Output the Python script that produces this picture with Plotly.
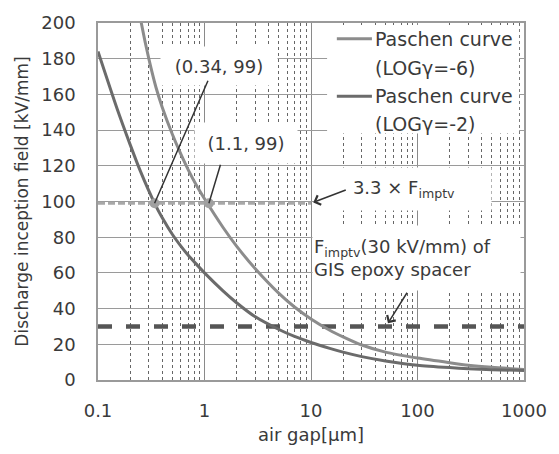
import math
import plotly.graph_objects as go

# ---- data ----
gap_g6 = [0.24, 0.255, 0.3, 0.35, 0.4, 0.5, 0.6, 0.7, 0.85, 1.0, 1.5, 2, 3, 5, 7, 10, 15, 20, 30, 50, 100, 200, 300, 500, 1000]
field_g6 = [209, 200, 180, 164, 153, 137.5, 126.5, 118, 108.5, 101.5, 85.3, 75, 62.3, 48.5, 40.9, 34.2, 27.9, 24.2, 19.6, 15.6, 12.3, 9.7, 8.3, 7.1, 5.9]
gap_g2 = [0.1, 0.15, 0.2, 0.25, 0.34, 0.4, 0.5, 0.6, 0.7, 0.85, 1.0, 1.5, 2, 3, 5, 7, 10, 15, 20, 30, 50, 100, 200, 300, 500, 1000]
field_g2 = [184, 152.5, 132, 117, 99, 91, 81.5, 75, 70, 64.5, 60, 49.8, 43.3, 35.4, 28.3, 24.4, 21, 17.7, 15.6, 13.1, 10.7, 8.3, 6.95, 6.35, 5.8, 5.3]
f_imptv = 30
f_imptv_x33 = 99
f33_gap = [0.1, 10]
full_gap = [0.1, 1000]
pt_gap = [0.34, 1.1]
pt_field = [99, 99]
x_tickvals = [0.1, 1, 10, 100, 1000]
x_ticktext = ["0.1", "1", "10", "100", "1000"]

FONT = "DejaVu Sans"
TXT = "#3a3a3a"
C6 = "#8c8c8c"
C2 = "#6b6b6b"

L, R, T, B = 98, 535, 20, 385
def pxx(x):
    return (x - L) / (R - L)
def pxy(y):
    return (B - y) / (B - T)

fig = go.Figure()
fig.add_trace(go.Scatter(x=full_gap, y=[f_imptv] * len(full_gap), mode="lines",
                         line=dict(color="#555555", width=4.5, dash="14px,14px"),
                         showlegend=False, hoverinfo="skip"))
fig.add_trace(go.Scatter(x=gap_g6, y=field_g6, mode="lines", name="Paschen curve (LOGγ=-6)",
                         line=dict(color=C6, width=3, shape="spline", smoothing=0.6), showlegend=False))
fig.add_trace(go.Scatter(x=gap_g2, y=field_g2, mode="lines", name="Paschen curve (LOGγ=-2)",
                         line=dict(color=C2, width=3, shape="spline", smoothing=0.6), showlegend=False))
fig.add_trace(go.Scatter(x=f33_gap, y=[f_imptv_x33] * len(f33_gap), mode="lines",
                         line=dict(color="#a8a8a8", width=3, dash="7px,3px"),
                         showlegend=False, hoverinfo="skip"))
fig.add_trace(go.Scatter(x=pt_gap, y=pt_field, mode="markers",
                         marker=dict(color="#a0a0a0", size=10), showlegend=False))

ann = []
def txt(text, cx, cy, w=None, h=None, xanchor="center", align="center", size=18):
    d = dict(text=text, x=pxx(cx), y=pxy(cy), xref="paper", yref="paper", showarrow=False,
             xanchor=xanchor, yanchor="middle", align=align,
             font=dict(family=FONT, size=size, color=TXT))
    if w is not None:
        d.update(width=w, height=h, bgcolor="white")
    ann.append(d)

txt("(0.34, 99)", 222, 64, 114, 36)
txt("(1.1, 99)", 250, 143, 100, 38)
txt("3.3 × F<sub>imptv</sub>", 412, 190, 172, 40)
txt("F<sub>imptv</sub>(30 kV/mm) of<br>GIS epoxy spacer", 318, 260, 205, 62, xanchor="left", align="left")

def arrow(xv, yv, ax, ay, head):
    ann.append(dict(text="", x=math.log10(xv), y=yv, xref="x", yref="y", showarrow=True,
                    ax=ax, ay=ay, arrowhead=head, arrowsize=1.3, arrowwidth=1.5, arrowcolor="#333333"))

arrow(pt_gap[0], pt_field[0], 54, -124, 0)
arrow(pt_gap[1], pt_field[1], 12, -40, 0)
arrow(10.5, 99.5, 34, -13, 4)
arrow(52.8, 31.8, 20, -32, 4)

# legend (manual)
shapes = [dict(type="rect", xref="paper", yref="paper", x0=pxx(333), x1=pxx(530), y0=pxy(133), y1=pxy(22),
               fillcolor="white", line=dict(width=0), layer="above")]
for yy, col in [(36, C6), (95, C2)]:
    shapes.append(dict(type="line", xref="paper", yref="paper", x0=pxx(343), x1=pxx(379),
                       y0=pxy(yy), y1=pxy(yy), line=dict(color=col, width=3), layer="above"))
for text, yy in [("Paschen curve", 36), ("(LOGγ=-6)", 66), ("Paschen curve", 95), ("(LOGγ=-2)", 123)]:
    txt(text, 380, yy, xanchor="left", align="left", size=19)

fig.update_layout(
    width=559, height=454, margin=dict(l=98, r=24, t=20, b=69),
    paper_bgcolor="white", plot_bgcolor="white",
    font=dict(family=FONT, size=18, color=TXT),
    annotations=ann, shapes=shapes,
    xaxis=dict(type="log", range=[-1, 3], tickvals=x_tickvals, ticktext=x_ticktext,
               showgrid=True, gridcolor="#8a8a8a", gridwidth=1,
               minor=dict(showgrid=True, gridcolor="#666666", griddash="dot", gridwidth=1, dtick="D1"),
               showline=True, mirror=True, linecolor="#9a9a9a", linewidth=1.5,
               ticks="", ticklabelstandoff=14, zeroline=False,
               title=dict(text="air gap[μm]", standoff=8, font=dict(size=18))),
    yaxis=dict(range=[0, 200], dtick=20, showgrid=True, gridcolor="#9a9a9a", gridwidth=1.2,
               showline=True, mirror=True, linecolor="#9a9a9a", linewidth=1.5,
               ticks="", ticklabelstandoff=17, zeroline=False,
               title=dict(text="Discharge inception field [kV/mm]", standoff=8, font=dict(size=17))),
)

fig.write_html("out.html")
